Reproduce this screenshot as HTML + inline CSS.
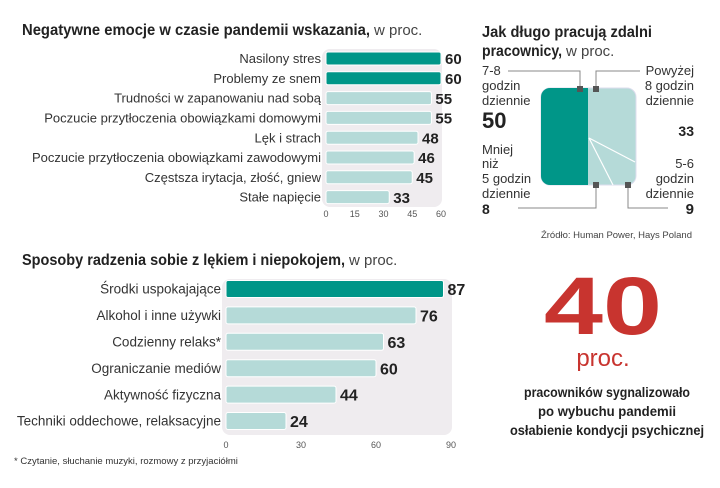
<!DOCTYPE html>
<html><head><meta charset="utf-8"><style>
body{margin:0;background:#fff;width:720px;height:483px;overflow:hidden}
svg{font-family:"Liberation Sans",sans-serif}
</style></head><body>
<svg id="s" width="720" height="483" xmlns="http://www.w3.org/2000/svg">
<text x="22" y="35" font-size="16" font-weight="bold" fill="#222" textLength="348" lengthAdjust="spacingAndGlyphs">Negatywne emocje w czasie pandemii wskazania,</text>
<text x="374" y="35" font-size="15" fill="#444">w proc.</text>
<rect x="322" y="49" width="120" height="158" rx="8" fill="#efecef"/>
<g id="c1"></g>

<text x="22" y="265" font-size="16" font-weight="bold" fill="#222" textLength="323" lengthAdjust="spacingAndGlyphs">Sposoby radzenia sobie z lękiem i niepokojem,</text>
<text x="349" y="265" font-size="15" fill="#444">w proc.</text>
<rect x="222" y="279" width="230" height="156" rx="8" fill="#efecef"/>
<g id="c2"></g>
<text x="14" y="464" font-size="9.5" fill="#333">* Czytanie, słuchanie muzyki, rozmowy z przyjaciółmi</text>

<g>
<text x="482" y="37" font-size="16" font-weight="bold" fill="#222" textLength="170" lengthAdjust="spacingAndGlyphs">Jak długo pracują zdalni</text>
<text x="482" y="56" font-size="16" font-weight="bold" fill="#222" textLength="80" lengthAdjust="spacingAndGlyphs">pracownicy,</text>
<text x="566" y="56" font-size="15" fill="#444">w proc.</text>
<rect x="541" y="88" width="95" height="97" rx="9" fill="#b5dad8" stroke="#dde"/>
<path d="M550 88 H588 V185 H550 A9 9 0 0 1 541 176 V97 A9 9 0 0 1 550 88Z" fill="#009688"/>
<line x1="589" y1="138" x2="635" y2="162" stroke="#fff" stroke-width="1.2"/>
<line x1="589" y1="138" x2="613" y2="185" stroke="#fff" stroke-width="1.2"/>
<g stroke="#888" stroke-width="1" fill="none">
<polyline points="508,71 580,71 580,89"/><polyline points="596,89 596,71 640,71"/>
<polyline points="518,208 596,208 596,185"/><polyline points="628,185 628,208 668,208"/>
</g>
<g fill="#555"><rect x="577" y="86" width="6" height="6"/><rect x="593" y="86" width="6" height="6"/><rect x="593" y="182" width="6" height="6"/><rect x="625" y="182" width="6" height="6"/></g>
<g font-size="13" fill="#333">
<text x="482" y="75">7-8</text><text x="482" y="90">godzin</text><text x="482" y="105">dziennie</text>
<text x="482" y="128" font-size="22" font-weight="bold" fill="#222">50</text>
<text x="482" y="154">Mniej</text><text x="482" y="168">niż</text><text x="482" y="183">5 godzin</text><text x="482" y="198">dziennie</text>
<text x="482" y="214" font-weight="bold" font-size="14" fill="#222">8</text>
<g text-anchor="end"><text x="694" y="75">Powyżej</text><text x="694" y="90">8 godzin</text><text x="694" y="105">dziennie</text>
<text x="694" y="136" font-weight="bold" font-size="14" fill="#222">33</text>
<text x="694" y="168">5-6</text><text x="694" y="183">godzin</text><text x="694" y="198">dziennie</text>
<text x="694" y="214" font-weight="bold" font-size="15" fill="#222">9</text></g>
</g>
<text x="692" y="238" text-anchor="end" font-size="9.5" fill="#444">Źródło: Human Power, Hays Poland</text>
</g>

<g>
<text x="603" y="334" text-anchor="middle" font-size="82" font-weight="bold" fill="#c8342f" textLength="118" lengthAdjust="spacingAndGlyphs">40</text>
<text x="603" y="366" text-anchor="middle" font-size="24" fill="#c8342f">proc.</text>
<g font-size="14" font-weight="bold" fill="#222" text-anchor="middle">
<text x="607" y="397" textLength="166" lengthAdjust="spacingAndGlyphs">pracowników sygnalizowało</text>
<text x="607" y="416" textLength="138" lengthAdjust="spacingAndGlyphs">po wybuchu pandemii</text>
<text x="607" y="435" textLength="194" lengthAdjust="spacingAndGlyphs">osłabienie kondycji psychicznej</text>
</g></g>
</svg>
<script>
const cats1=["Nasilony stres","Problemy ze snem","Trudności w zapanowaniu nad sobą","Poczucie przytłoczenia obowiązkami domowymi","Lęk i strach","Poczucie przytłoczenia obowiązkami zawodowymi","Częstsza irytacja, złość, gniew","Stałe napięcie"];
const vals1=[60,60,55,55,48,46,45,33];
const ticks1=[0,15,30,45,60];
const cats2=["Środki uspokajające","Alkohol i inne używki","Codzienny relaks*","Ograniczanie mediów","Aktywność fizyczna","Techniki oddechowe, relaksacyjne"];
const vals2=[87,76,63,60,44,24];
const ticks2=[0,30,60,90];
const NS="http://www.w3.org/2000/svg";
function mk(g,tag,a,txt){const e=document.createElementNS(NS,tag);for(const k in a)e.setAttribute(k,a[k]);if(txt!=null)e.textContent=txt;g.appendChild(e);return e;}
function draw(gid,cats,vals,ticks,x0,x1,max,y0,pitch,bh,fs,vfs,tickY,nHi){
  const g=document.getElementById(gid);
  const X=v=>x0+(x1-x0)*v/max;
  cats.forEach((c,i)=>{
    const yc=y0+i*pitch;
    const l=mk(g,'text',{x:x0-5,y:yc+fs*0.35,'text-anchor':'end','font-size':fs,fill:'#333'},c);
    
    
    const r=mk(g,'rect',{x:x0,y:yc-bh/2,width:X(vals[i])-x0,height:bh,rx:2,fill:i<nHi?'#009688':'#b5dad8',stroke:'#fff','stroke-width':1});
    
    
    const t=mk(g,'text',{x:X(vals[i])+4,y:yc+vfs*0.38,'font-size':vfs,'font-weight':'bold',fill:'#222'},vals[i]);
    
    
  });
  ticks.forEach(v=>{
    const t=mk(g,'text',{x:X(v),y:tickY,'text-anchor':'middle','font-size':9,fill:'#555'},v);
    
    
  });
}
draw('c1',cats1,vals1,ticks1,326,441,60,58.5,19.8,13,13,15,217,2);
draw('c2',cats2,vals2,ticks2,226,451,90,289,26.4,17,13.5,16,448,1);
</script>
</body></html>
